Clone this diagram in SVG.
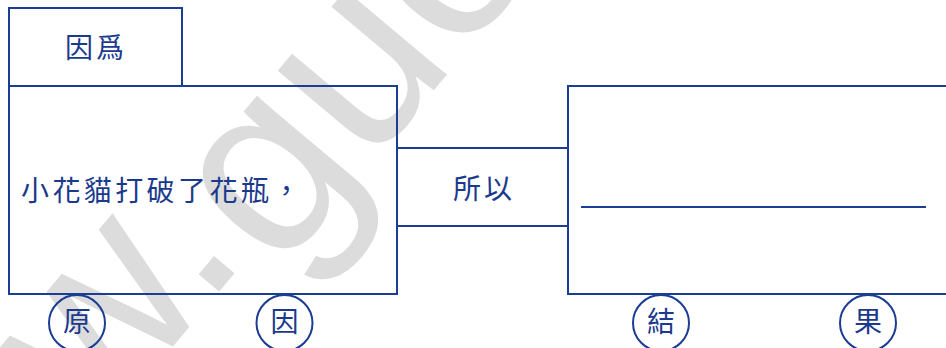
<svg xmlns="http://www.w3.org/2000/svg" width="946" height="348" viewBox="0 0 946 348">
<style>
.box{fill:none;stroke:#1b3d93;stroke-width:2}
.ln{stroke:#1b3d93;stroke-width:2}
.t{font-family:"Noto Sans CJK TC","Noto Sans CJK SC",sans-serif;font-size:28px;fill:#1b3a8c;letter-spacing:3px}
.c{font-family:"Noto Sans CJK TC","Noto Sans CJK SC",sans-serif;font-size:28px;fill:#1b3a8c;text-anchor:middle}
.wm{font-family:"Liberation Sans",Arial,sans-serif;font-size:250px;fill:#dcdcdc}
</style>
<rect width="946" height="348" fill="#ffffff"/>
<text class="wm" transform="translate(213,299) rotate(-50)" x="-541" y="0">www.<tspan dx="5" dy="35">guo</tspan></text>
<g id="tab">
<rect class="box" x="9" y="8" width="173" height="78"/>
<text class="t" x="65" y="58">因爲</text>
</g>
<g id="cause">
<rect class="box" x="9" y="86" width="388" height="208"/>
<text class="t" x="21" y="201" style="letter-spacing:3.4px">小花貓打破了花瓶，</text>
</g>
<g id="connectors">
<line class="ln" x1="397" y1="148" x2="568" y2="148"/>
<line class="ln" x1="397" y1="226" x2="568" y2="226"/>
</g>
<g id="so">
<text class="t" x="453" y="199">所以</text>
</g>
<g id="result">
<rect class="box" x="568" y="86" width="390" height="208"/>
<line class="ln" x1="581" y1="207" x2="926" y2="207"/>
</g>
<g id="c1"><circle class="box" cx="77" cy="323" r="28"/><text class="c" x="77" y="332">原</text></g>
<g id="c2"><circle class="box" cx="284.5" cy="323" r="28"/><text class="c" x="284.5" y="332">因</text></g>
<g id="c3"><circle class="box" cx="661" cy="323" r="28"/><text class="c" x="661" y="332">結</text></g>
<g id="c4"><circle class="box" cx="868" cy="323" r="28"/><text class="c" x="868" y="332">果</text></g>
</svg>
